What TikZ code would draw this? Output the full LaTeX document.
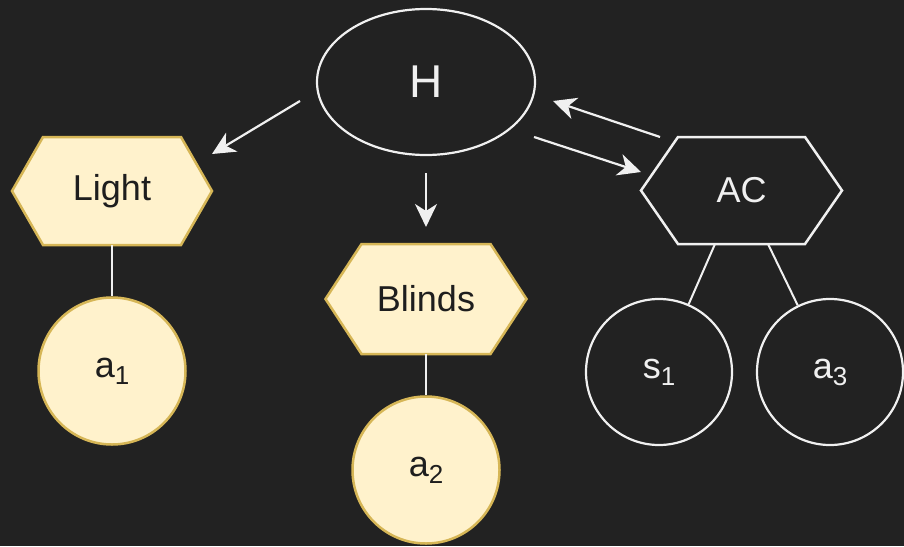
\documentclass[tikz,border=0pt]{standalone}
\usepackage{fontspec}
\setmainfont{Liberation Sans}
\usetikzlibrary{arrows.meta,backgrounds,shapes.geometric}
\definecolor{bg}{RGB}{34,34,34}
\definecolor{yfill}{RGB}{255,242,204}
\definecolor{ystroke}{RGB}{214,182,86}
\definecolor{wline}{RGB}{240,240,240}
\definecolor{dtext}{RGB}{30,30,30}
\newcommand\hexa[3]{% name, inset, style
  \path[#3] (#1.west) -- ([xshift=#2pt]#1.north west) -- ([xshift=-#2pt]#1.north east) -- (#1.east) -- ([xshift=-#2pt]#1.south east) -- ([xshift=#2pt]#1.south west) -- cycle;}
\newcommand\subx[2]{#1\raisebox{-7pt}{\fontsize{26}{28}\selectfont #2}}
\begin{document}
\begin{tikzpicture}[x=1pt,y=-1pt,
  lbl/.style={font=\fontsize{36}{40}\selectfont},
  hexbox/.style={rectangle,draw=none,inner sep=0pt,outer sep=0pt,lbl},
  yhex/.style={fill=yfill,draw=ystroke,line width=2.5pt,line join=miter},
  dhex/.style={draw=wline,line width=2.5pt},
  ycirc/.style={circle,fill=yfill,draw=ystroke,line width=2.5pt,minimum size=147pt,inner sep=0pt,text=dtext,lbl},
  dcirc/.style={circle,draw=wline,line width=2.2pt,minimum size=146pt,inner sep=0pt,text=wline,lbl},
  link/.style={draw=wline,line width=2pt},
  arr/.style={draw=wline,line width=2.2pt,-{Stealth[length=23pt,width=22pt,inset=7pt]}}]
\useasboundingbox (0,0) rectangle (904,546);
\begin{scope}[on background layer]
  \fill[bg] (0,0) rectangle (904,546);
\end{scope}

\node[ellipse,draw=wline,line width=2.2pt,minimum width=218pt,minimum height=146pt,inner sep=0pt,text=wline,font=\fontsize{46}{50}\selectfont] (H) at (426,82) {H};

\node[hexbox,minimum width=200pt,minimum height=108pt,text=dtext] (Light) at (112,191) {Light};
\node[hexbox,minimum width=201pt,minimum height=110pt,text=dtext] (Blinds) at (426,299) {Blinds};
\node[hexbox,minimum width=201pt,minimum height=107pt,text=wline] (AC) at (741.5,190.5) {AC};
\begin{scope}[on background layer]
  \hexa{Light}{31}{yhex}
  \hexa{Blinds}{36}{yhex}
  \hexa{AC}{37}{dhex}
\end{scope}

\node[ycirc] (a1) at (112,371) {\subx{a}{1}};
\node[ycirc] (a2) at (426,470) {\subx{a}{2}};
\node[dcirc] (s1) at (659,372) {\subx{s}{1}};
\node[dcirc] (a3) at (830,372) {\subx{a}{3}};

\draw[link] (Light.south) -- (a1.north);
\draw[link] (Blinds.south) -- (a2.north);
\coordinate (acl) at ([xshift=-26.5pt]AC.south);
\coordinate (acr) at ([xshift=26.5pt]AC.south);
\draw[link] (acl) -- (s1);
\draw[link] (acr) -- (a3);

\coordinate (hl0) at (300,101);
\coordinate (hl1) at (212,154);
\coordinate (hb0) at (426,173);
\coordinate (hb1) at (426,227);
\coordinate (ha0) at (534,137);
\coordinate (ha1) at (641,172);
\coordinate (ah0) at (660,137);
\coordinate (ah1) at (553,101);
\draw[arr] (hl0) -- (hl1);
\draw[arr] (hb0) -- (hb1);
\draw[arr] (ha0) -- (ha1);
\draw[arr] (ah0) -- (ah1);
\end{tikzpicture}
\end{document}
